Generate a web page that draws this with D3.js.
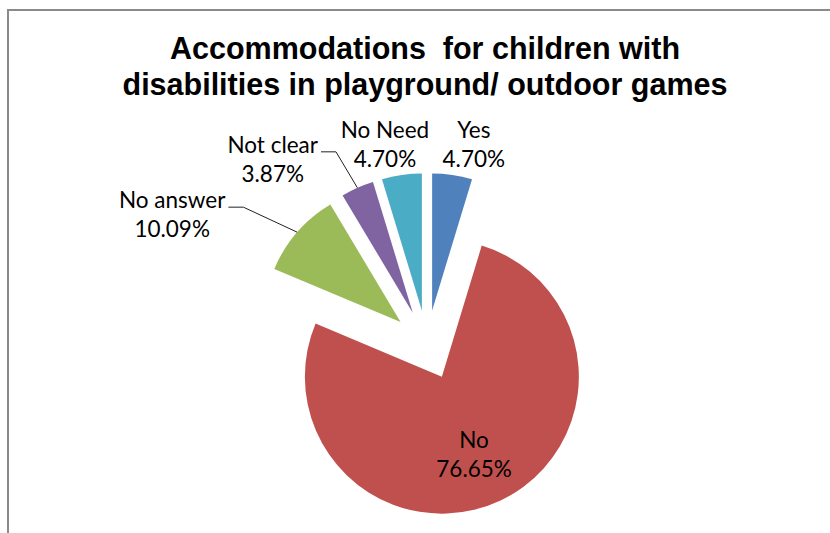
<!DOCTYPE html>
<html>
<head>
<meta charset="utf-8">
<script src="https://cdn.jsdelivr.net/npm/d3@7"></script>
<style>
  html, body { margin: 0; padding: 0; background: #fff; }
  svg { display: block; }
</style>
</head>
<body>
<svg id="chart" width="830" height="533"></svg>
<script>
// Survey answers, clockwise from 12 o'clock
const categories = ["Yes", "No", "No answer", "Not clear", "No Need"];
const values = [4.70, 76.65, 10.09, 3.87, 4.70];
const sliceColors = ["#4F81BD", "#C0504D", "#9BBB59", "#8064A2", "#4BACC6"];
const titleLines = ["Accommodations  for children with", "disabilities in playground/ outdoor games"];

// Layout
const W = 830, H = 533;
const cx = 427, cy = 345, radius = 137, explode = 35;
// label placement in polar terms around the pie centre: angle (deg, clockwise from top) and distance
const labelPolar = {
  "Yes":       { angle: 13.2,  dist: 205, leader: false },
  "No":        { angle: 156.9, dist: 120, leader: false },
  "No answer": { angle: -63.0, dist: 286, leader: true },
  "Not clear": { angle: -39.8, dist: 241, leader: true },
  "No Need":   { angle: -11.9, dist: 204, leader: false }
};

const svg = d3.select("#chart");

// chart frame (right and bottom edges fall outside the view)
svg.append("rect")
  .attr("x", 8).attr("y", 10)
  .attr("width", W + 20).attr("height", H + 20)
  .attr("fill", "#fff")
  .attr("stroke", "#8a8a8a").attr("stroke-width", 2);

// title
const title = svg.append("text")
  .attr("text-anchor", "middle")
  .attr("font-family", "'Liberation Sans', Arial, sans-serif")
  .attr("font-weight", "bold")
  .attr("font-size", 30.5)
  .attr("fill", "#000");
titleLines.forEach((t, i) => {
  title.append("tspan").attr("x", 425).attr("y", 59 + i * 35.5).attr("xml:space", "preserve").text(t);
});

const data = categories.map((c, i) => ({ name: c, value: values[i], color: sliceColors[i] }));
const pie = d3.pie().sort(null).value(d => d.value).startAngle(0).endAngle(2 * Math.PI);
const arcs = pie(data);
const arc = d3.arc().innerRadius(0).outerRadius(radius);

const g = svg.append("g").attr("transform", `translate(${cx},${cy})`);

function offsetOf(a) {
  const mid = (a.startAngle + a.endAngle) / 2;
  return [Math.sin(mid) * explode, -Math.cos(mid) * explode];
}

g.selectAll("path.slice")
  .data(arcs)
  .join("path")
  .attr("class", "slice")
  .attr("d", arc)
  .attr("fill", d => d.data.color)
  .attr("transform", d => { const o = offsetOf(d); return `translate(${o[0]},${o[1]})`; });

// data labels
const labelFont = "Lato, 'Open Sans', sans-serif";
arcs.forEach(a => {
  const p = labelPolar[a.data.name];
  const ang = p.angle * Math.PI / 180;
  const lx = Math.sin(ang) * p.dist;
  const ly = -Math.cos(ang) * p.dist;
  const t = g.append("text")
    .attr("text-anchor", "middle")
    .attr("font-family", labelFont)
    .attr("font-size", 22.5)
    .attr("fill", "#000");
  const l1 = t.append("tspan").attr("x", lx).attr("y", ly - 7).text(a.data.name);
  t.append("tspan").attr("x", lx).attr("y", ly + 22).text(d3.format(".2f")(a.data.value) + "%");

  if (p.leader) {
    const w = l1.node().getComputedTextLength();
    const right = lx + w / 2;
    const yLine = ly - 8;
    const mid = (a.startAngle + a.endAngle) / 2;
    const o = offsetOf(a);
    const ex = o[0] + Math.sin(mid) * radius;
    const ey = o[1] - Math.cos(mid) * radius;
    g.append("polyline")
      .attr("points", [[right + 3, yLine], [right + 18, yLine], [ex, ey]].map(q => q.join(",")).join(" "))
      .attr("fill", "none")
      .attr("stroke", "#222")
      .attr("stroke-width", 1);
  }
});
</script>
</body>
</html>
